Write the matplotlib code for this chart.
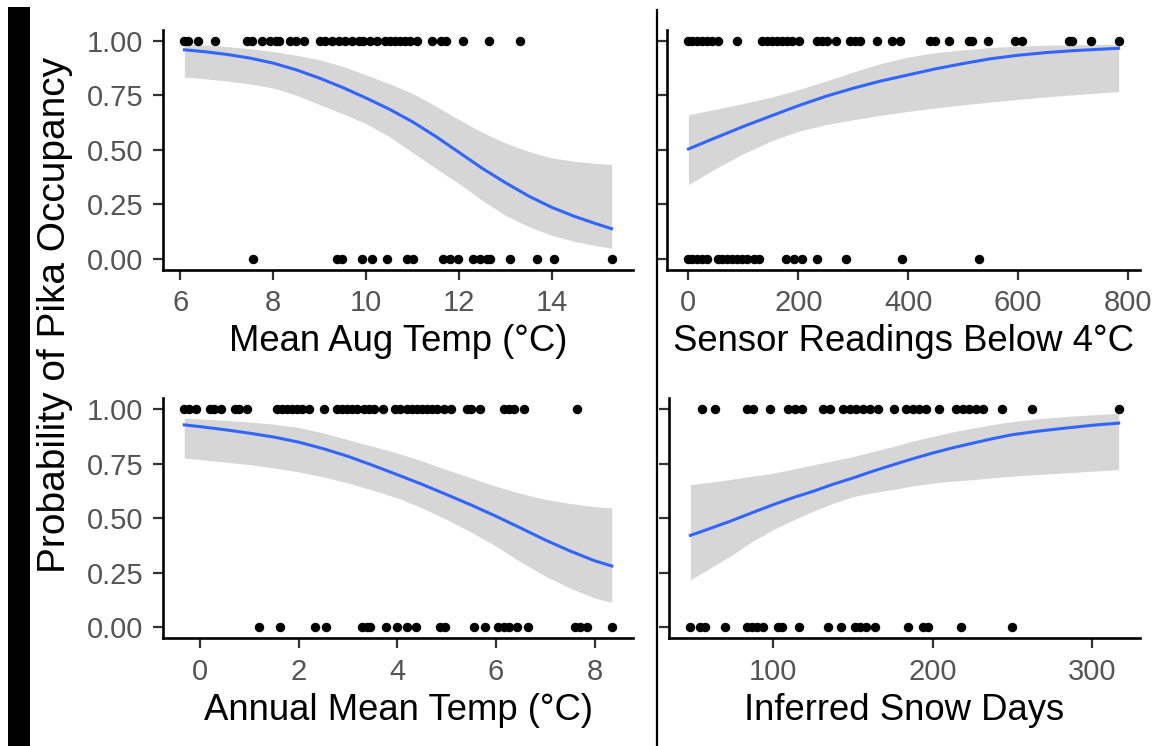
import matplotlib
matplotlib.use("Agg")
import matplotlib.pyplot as plt
from matplotlib.patches import Rectangle
from matplotlib.lines import Line2D

W, H = 1161, 746

# ---- panel 1: Mean Aug Temp ----
aug_present = [6.09, 6.16, 6.39, 6.74, 7.44, 7.55, 7.76, 7.94, 8.05, 8.12, 8.37, 8.49, 8.67,
               9.01, 9.12, 9.26, 9.41, 9.55, 9.69, 9.84, 9.94, 10.09, 10.23, 10.41, 10.51,
               10.62, 10.73, 10.84, 10.94, 11.09, 11.41, 11.62, 11.72, 12.09, 12.64, 13.32]
aug_absent = [7.57, 9.37, 9.48, 9.91, 10.12, 10.44, 10.87, 11.01, 11.66, 11.80, 11.98,
              12.30, 12.44, 12.60, 12.67, 13.09, 13.67, 14.04, 15.28]
aug_x = [6.09, 6.5, 7, 7.5, 8, 8.5, 9, 9.5, 10, 10.5, 11, 11.5, 12, 12.5, 13, 13.5, 14,
         14.5, 15, 15.28]
aug_fit = [0.958, 0.950, 0.937, 0.920, 0.897, 0.866, 0.828, 0.785, 0.737, 0.686, 0.628,
           0.561, 0.488, 0.415, 0.349, 0.288, 0.236, 0.194, 0.158, 0.139]
aug_lo = [0.833, 0.826, 0.815, 0.802, 0.783, 0.750, 0.707, 0.665, 0.620, 0.560, 0.488,
          0.415, 0.345, 0.268, 0.200, 0.148, 0.108, 0.080, 0.059, 0.050]
aug_hi = [0.985, 0.980, 0.973, 0.963, 0.950, 0.933, 0.912, 0.882, 0.843, 0.803, 0.758,
          0.700, 0.638, 0.580, 0.531, 0.492, 0.463, 0.447, 0.437, 0.433]

# ---- panel 2: Sensor readings below 4C ----
sens_present = [0, 7.3, 16.4, 25.5, 34.5, 42.4, 54.5, 89.2, 134.6, 143.7, 152.8, 161.8,
                170.9, 180, 189, 201, 234.6, 243.6, 252.7, 267.9, 295, 304, 313, 343.7,
                370.9, 386, 440.6, 449.7, 473.9, 510.3, 516.4, 545.4, 595, 607.3, 692,
                698, 733.3, 783]
sens_absent = [0, 7.3, 16.4, 25.5, 34.5, 54.5, 61.8, 70.9, 80, 89.2, 98.2, 107.3, 119.4,
               128.5, 177, 192, 207.3, 234.6, 286, 389.4, 528.8]
sens_x = [0, 50, 100, 150, 200, 250, 300, 350, 400, 450, 500, 550, 600, 650, 700, 783]
sens_fit = [0.504, 0.556, 0.607, 0.655, 0.702, 0.745, 0.782, 0.815, 0.843, 0.871, 0.895,
            0.917, 0.933, 0.945, 0.954, 0.965]
sens_lo = [0.341, 0.415, 0.482, 0.540, 0.585, 0.615, 0.638, 0.658, 0.676, 0.692, 0.706,
           0.719, 0.731, 0.742, 0.752, 0.767]
sens_hi = [0.661, 0.686, 0.712, 0.741, 0.775, 0.815, 0.856, 0.895, 0.925, 0.945, 0.958,
           0.968, 0.975, 0.979, 0.981, 0.983]

# ---- panel 3: Annual mean temp ----
ann_present = [-0.32, -0.22, -0.09, 0.20, 0.28, 0.42, 0.72, 0.79, 0.96, 1.57, 1.67, 1.77,
               1.87, 1.97, 2.07, 2.21, 2.51, 2.78, 2.88, 2.98, 3.08, 3.19, 3.32, 3.42,
               3.52, 3.72, 3.96, 4.06, 4.20, 4.30, 4.40, 4.50, 4.60, 4.70, 4.81, 4.94,
               5.08, 5.41, 5.49, 5.68, 6.16, 6.26, 6.36, 6.56, 7.64]
ann_absent = [1.20, 1.62, 2.33, 2.56, 3.29, 3.39, 3.45, 3.78, 4.00, 4.20, 4.37, 4.86, 4.97,
              5.55, 5.78, 6.05, 6.16, 6.26, 6.43, 6.65, 7.61, 7.71, 7.84, 8.35]
ann_x = [-0.32, 0, 0.5, 1, 1.5, 2, 2.5, 3, 3.5, 4, 4.5, 5, 5.5, 6, 6.5, 7, 7.5, 8, 8.35]
ann_fit = [0.927, 0.919, 0.905, 0.889, 0.871, 0.848, 0.818, 0.783, 0.742, 0.699, 0.655,
           0.608, 0.560, 0.509, 0.455, 0.400, 0.350, 0.305, 0.281]
ann_lo = [0.775, 0.768, 0.757, 0.745, 0.730, 0.712, 0.689, 0.661, 0.628, 0.593, 0.547,
          0.494, 0.436, 0.372, 0.300, 0.235, 0.180, 0.135, 0.114]
ann_hi = [0.958, 0.954, 0.948, 0.940, 0.930, 0.915, 0.890, 0.859, 0.829, 0.798, 0.762,
          0.722, 0.684, 0.646, 0.613, 0.586, 0.567, 0.553, 0.547]

# ---- panel 4: Inferred snow days ----
snow_present = [55.2, 63.6, 83.4, 87.5, 97.9, 109.4, 113.6, 117.7, 131.3, 135.4, 143.8,
                147.9, 152.1, 156.3, 160.4, 165.6, 176, 183.4, 187.5, 191.7, 195.9, 204.2,
                214.6, 218.8, 222.9, 227.1, 231.3, 243.8, 262.5, 316.7]
snow_absent = [47.9, 54.2, 57.3, 69.8, 83.4, 86.5, 89.6, 93.8, 103.1, 105.2, 116.3, 134.4,
               142.7, 151, 154.2, 158.3, 163.5, 184.4, 193.8, 196.9, 217.7, 250]
snow_x = [47.9, 60, 72.9, 86, 100, 112, 125, 137, 150, 162, 175, 187, 200, 212, 225, 237,
          250, 266, 283, 300, 316.7]
snow_fit = [0.421, 0.452, 0.486, 0.523, 0.562, 0.593, 0.623, 0.654, 0.684, 0.714, 0.744,
            0.771, 0.798, 0.821, 0.843, 0.863, 0.882, 0.898, 0.912, 0.925, 0.935]
snow_lo = [0.217, 0.270, 0.326, 0.390, 0.448, 0.490, 0.532, 0.567, 0.598, 0.616, 0.631,
           0.647, 0.661, 0.669, 0.676, 0.684, 0.692, 0.700, 0.707, 0.715, 0.722]
snow_hi = [0.653, 0.664, 0.677, 0.691, 0.706, 0.724, 0.744, 0.762, 0.782, 0.804, 0.828,
           0.852, 0.874, 0.894, 0.912, 0.928, 0.942, 0.955, 0.965, 0.973, 0.980]

y_ticks = [0, 0.25, 0.5, 0.75, 1.0]
y_ticklabels = ["0.00", "0.25", "0.50", "0.75", "1.00"]

panels = [
    # (x_present, x_absent, curve x, fit, lo, hi, xlim, xticks, label, box px, show y labels)
    (aug_present, aug_absent, aug_x, aug_fit, aug_lo, aug_hi, (5.63, 15.74),
     [6, 8, 10, 12, 14], "Mean Aug Temp (°C)", (163, 633, 29.7, 270), True),
    (sens_present, sens_absent, sens_x, sens_fit, sens_lo, sens_hi, (-39, 822),
     [0, 200, 400, 600, 800], "Sensor Readings Below 4°C", (667, 1140, 29.7, 270), False),
    (ann_present, ann_absent, ann_x, ann_fit, ann_lo, ann_hi, (-0.75, 8.78),
     [0, 2, 4, 6, 8], "Annual Mean Temp (°C)", (163, 633, 398, 638.3), True),
    (snow_present, snow_absent, snow_x, snow_fit, snow_lo, snow_hi, (34.5, 330.1),
     [100, 200, 300], "Inferred Snow Days", (669, 1140, 398, 638.3), False),
]

fig = plt.figure(figsize=(W / 100, H / 100), dpi=100)
fig.patch.set_facecolor("white")

for pres, absn, cx, fit, lo, hi, xlim, xt, label, (l, r, t, b), ylab in panels:
    ax = fig.add_axes([l / W, 1 - b / H, (r - l) / W, (b - t) / H])
    ax.fill_between(cx, lo, hi, color="#999999", alpha=0.4, linewidth=0, zorder=1)
    ax.plot(cx, fit, color="#3366FF", linewidth=2.2, zorder=2)
    ax.plot(pres, [1.0] * len(pres), "o", color="black", markersize=5.8, zorder=3)
    ax.plot(absn, [0.0] * len(absn), "o", color="black", markersize=5.8, zorder=3)
    ax.set_xlim(*xlim)
    ax.set_ylim(-0.05, 1.05)
    ax.set_xticks(xt)
    ax.set_xticklabels([str(v) for v in xt])
    ax.set_yticks(y_ticks)
    if ylab:
        ax.set_yticklabels(y_ticklabels)
    else:
        ax.set_yticklabels([])
    for s in ["top", "right"]:
        ax.spines[s].set_visible(False)
    for s in ["left", "bottom"]:
        ax.spines[s].set_linewidth(1.9)
        ax.spines[s].set_color("black")
    ax.tick_params(length=7, width=1.6, color="#333333", labelcolor="#555555",
                   labelsize=21, pad=7)
    for lab in ax.get_xticklabels() + ax.get_yticklabels():
        lab.set_family("Liberation Sans")
    ax.set_xlabel(label, fontsize=26.3, family="Liberation Sans", color="black", labelpad=5)

# left black bar and y title
fig.patches.append(Rectangle((8 / W, 0), 22 / W, (H - 7) / H, transform=fig.transFigure,
                             facecolor="black", edgecolor="none"))
fig.text(55 / W, 1 - 315 / H, "Probability of Pika Occupancy", rotation=90,
         ha="center", va="center", fontsize=28,
         family=["Liberation Sans Narrow", "DejaVu Sans Condensed", "Liberation Sans"],
         color="black")

# vertical divider between columns
fig.lines.append(Line2D([657 / W, 657 / W], [0, 1 - 10 / H], transform=fig.transFigure,
                        color="black", linewidth=1.6))

fig.savefig("out.png", dpi=100)
